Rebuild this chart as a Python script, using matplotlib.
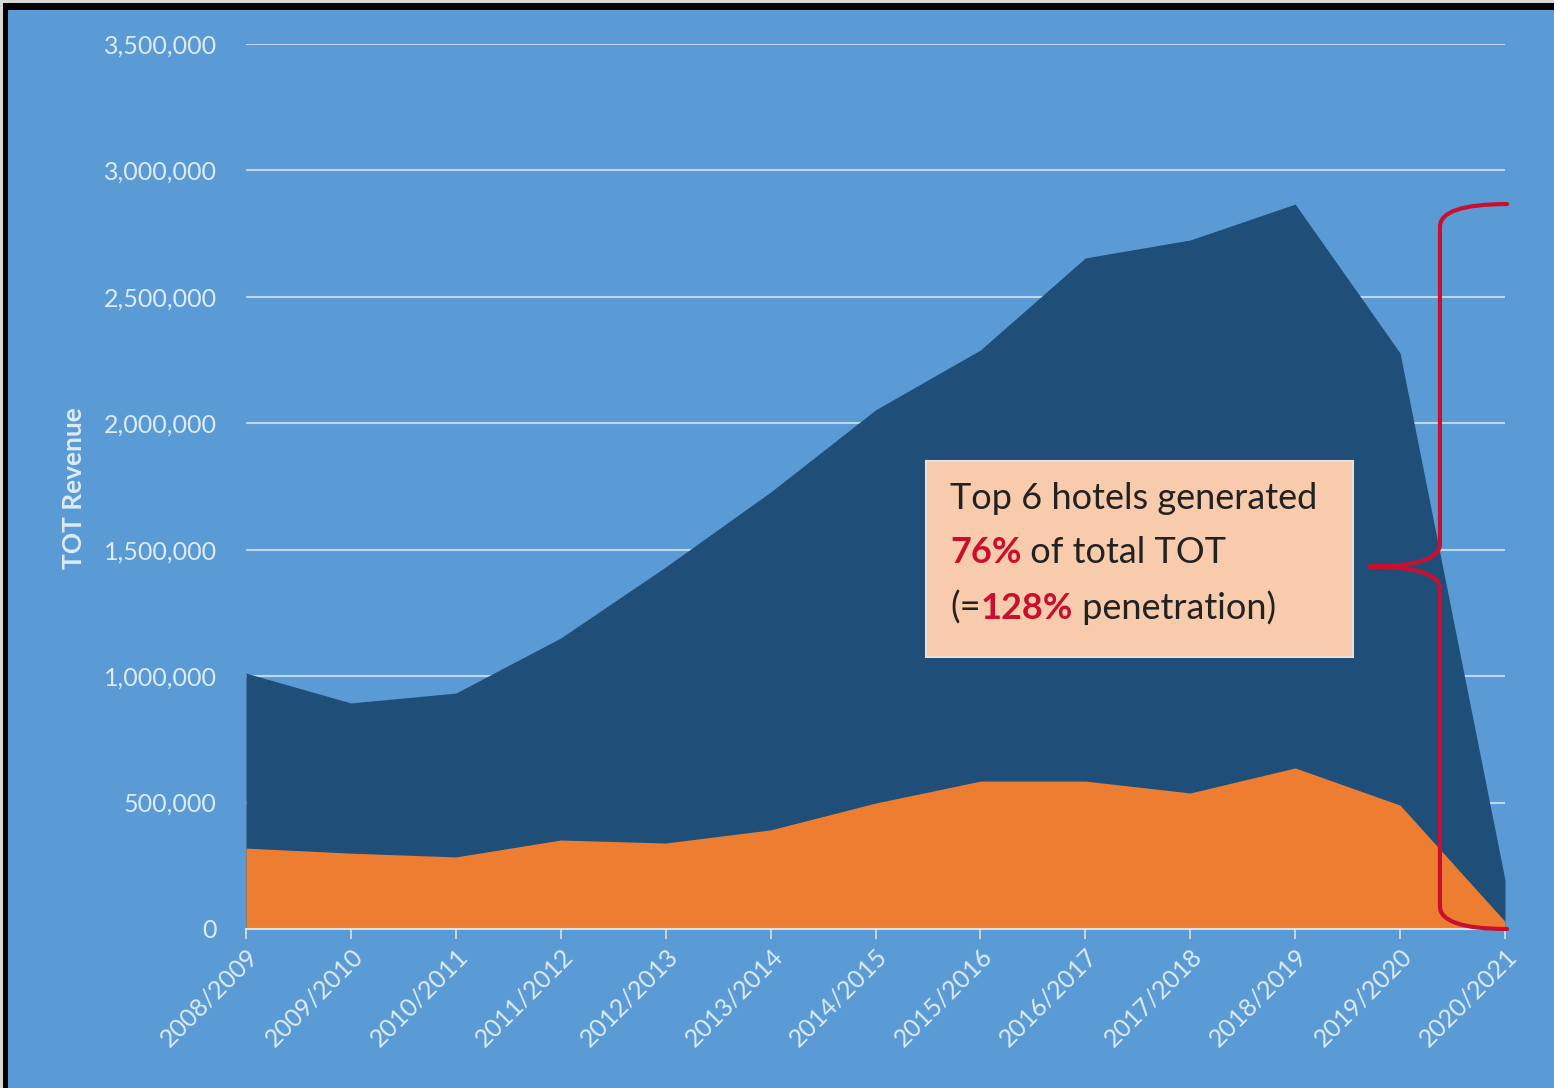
import matplotlib.pyplot as plt
import numpy as np
from matplotlib.path import Path
from matplotlib.patches import PathPatch, Rectangle
from matplotlib.ticker import FuncFormatter

years = ['2008/2009', '2009/2010', '2010/2011', '2011/2012', '2012/2013',
         '2013/2014', '2014/2015', '2015/2016', '2016/2017', '2017/2018',
         '2018/2019', '2019/2020', '2020/2021']
total_tot = [1012000, 894000, 933000, 1151000, 1432000, 1728000, 2053000,
             2290000, 2654000, 2725000, 2867000, 2278000, 194000]
top6_tot = [320000, 300000, 285000, 352000, 340000, 392000, 498000,
            585000, 585000, 538000, 637000, 490000, 30000]
yticks = [0, 500000, 1000000, 1500000, 2000000, 2500000, 3000000, 3500000]

bg = '#5B9BD5'
dark = '#1F4E79'
orange = '#ED7D31'
light = '#DDEBF7'
red = '#C8102E'

plt.rcParams['font.family'] = ['Lato', 'DejaVu Sans']

fig = plt.figure(figsize=(15.54, 10.88), dpi=100)
fig.patch.set_facecolor(bg)
ax = fig.add_axes([246 / 1554, 1 - 929 / 1088, (1505 - 246) / 1554, (929 - 44) / 1088])
ax.set_facecolor(bg)

x = np.arange(len(years))
ax.fill_between(x, 0, total_tot, color=dark, lw=0, zorder=2)
ax.fill_between(x, 0, top6_tot, color=orange, lw=0, zorder=3)

ax.set_xlim(0, len(years) - 1)
ax.set_ylim(0, 3500000)
ax.set_yticks(yticks)
ax.yaxis.set_major_formatter(FuncFormatter(lambda v, p: f'{int(v):,}'))
ax.grid(axis='y', color='#BDD7EE', lw=1.5, zorder=1)
ax.set_axisbelow(True)
for s in ['top', 'right', 'left']:
    ax.spines[s].set_visible(False)
ax.spines['bottom'].set_color('#E0E0E0')
ax.spines['bottom'].set_linewidth(1.5)
ax.spines['bottom'].set_zorder(5)
ax.tick_params(axis='y', length=0, pad=21, labelsize=18, labelcolor=light)
ax.tick_params(axis='x', length=7, color='#E0E0E0', width=1.2, labelsize=18, labelcolor=light,
               pad=4)
ax.set_xticks(x)
ax.set_xticklabels(years, rotation=45, ha='right', rotation_mode='anchor')
ax.set_ylabel('TOT Revenue', color=light, fontsize=19, fontweight='bold')
ax.yaxis.set_label_coords(-0.127, 0.498)

# text box
fs = 26
ax.add_patch(Rectangle((6.48, 1076000), 4.07, 775000, fc='#F8CBAD', ec='#E8E0D8', lw=1.5, zorder=5))
ax.text(6.71, 1662000, 'Top 6 hotels generated', fontsize=fs, color='#222222',
        va='baseline', zorder=6)
t2 = ax.text(6.71, 1448000, '76%', fontsize=fs, fontweight='bold', color=red, va='baseline', zorder=6)
ax.annotate(' of total TOT', xy=(1, 0), xycoords=t2, fontsize=fs, color='#222222',
            va='bottom', zorder=6)
t3 = ax.text(6.71, 1226000, '(=', fontsize=fs, color='#222222', va='baseline', zorder=6)
t4 = ax.annotate('128%', xy=(1, 0), xycoords=t3, fontsize=fs, fontweight='bold', color=red,
                 va='bottom', zorder=6)
ax.annotate(' penetration)', xy=(1, 0), xycoords=t4, fontsize=fs, color='#222222',
            va='bottom', zorder=6)

# curly brace
ytop = max(total_tot)
ymid = ytop / 2
xv, xe, xt = 11.38, 12.02, 10.71
ry = 90000
verts = [(xe, ytop), (xv, ytop), (xv, ytop - ry),
         (xv, ymid + ry), (xv, ymid), (xt, ymid),
         (xv, ymid), (xv, ymid - ry),
         (xv, ry), (xv, 0), (xe, 0)]
codes = [Path.MOVETO, Path.CURVE3, Path.CURVE3,
         Path.LINETO, Path.CURVE3, Path.CURVE3,
         Path.CURVE3, Path.CURVE3,
         Path.LINETO, Path.CURVE3, Path.CURVE3]
ax.add_patch(PathPatch(Path(verts, codes), fc='none', ec=red, lw=3, zorder=7,
                       clip_on=False, capstyle='round', joinstyle='round'))

# screenshot frame
fig.patches.append(Rectangle((0, 1 - 10 / 1088), 1, 10 / 1088, transform=fig.transFigure,
                             fc='black', ec='none', zorder=10))
fig.patches.append(Rectangle((0, 1 - 3 / 1088), 1, 3 / 1088, transform=fig.transFigure,
                             fc='#D8D8D8', ec='none', zorder=11))
fig.patches.append(Rectangle((0, 0), 8 / 1554, 1, transform=fig.transFigure,
                             fc='black', ec='none', zorder=10))
fig.patches.append(Rectangle((0, 0), 3 / 1554, 1, transform=fig.transFigure,
                             fc='#D8D8D8', ec='none', zorder=11))

fig.savefig('out.png', dpi=100, facecolor=bg)
